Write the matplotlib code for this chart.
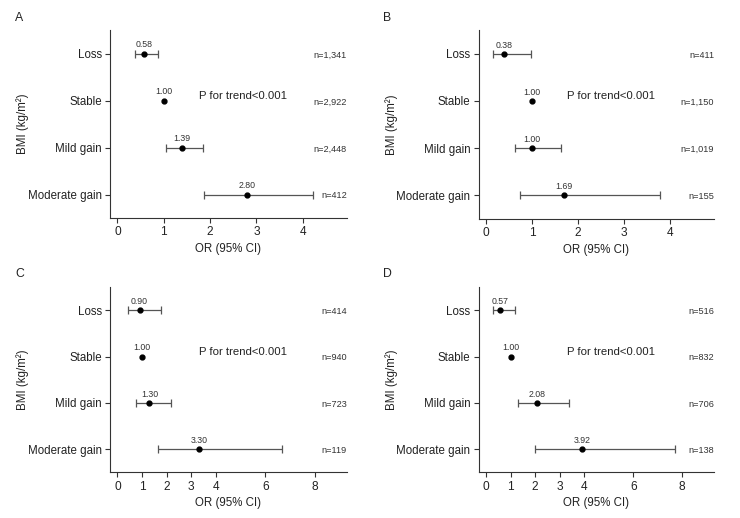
import numpy as np
import matplotlib
matplotlib.use("Agg")
import matplotlib.pyplot as plt

plt.rcParams["font.family"] = ["Liberation Sans", "DejaVu Sans"]

# categories, top to bottom
groups = ["Loss", "Stable", "Mild gain", "Moderate gain"]

# panel A
or_a = [0.58, 1.00, 1.39, 2.80]
lo_a = [0.37, 1.00, 1.06, 1.88]
hi_a = [0.88, 1.00, 1.84, 4.22]
n_a = ["n=1,341", "n=2,922", "n=2,448", "n=412"]

# panel B
or_b = [0.38, 1.00, 1.00, 1.69]
lo_b = [0.14, 1.00, 0.63, 0.74]
hi_b = [0.97, 1.00, 1.62, 3.78]
n_b = ["n=411", "n=1,150", "n=1,019", "n=155"]

# panel C
or_c = [0.90, 1.00, 1.30, 3.30]
lo_c = [0.45, 1.00, 0.76, 1.64]
hi_c = [1.77, 1.00, 2.16, 6.68]
n_c = ["n=414", "n=940", "n=723", "n=119"]

# panel D
or_d = [0.57, 1.00, 2.08, 3.92]
lo_d = [0.26, 1.00, 1.28, 1.99]
hi_d = [1.18, 1.00, 3.38, 7.72]
n_d = ["n=516", "n=832", "n=706", "n=138"]

ticks_small = [0, 1, 2, 3, 4]
ticks_big = [0, 1, 2, 3, 4, 6, 8]

panels = [
    ("A", or_a, lo_a, hi_a, n_a, ticks_small, (-0.16, 4.95), [0.1486, 0.579, 0.320, 0.363]),
    ("B", or_b, lo_b, hi_b, n_b, ticks_small, (-0.16, 4.95), [0.647, 0.577, 0.318, 0.365]),
    ("C", or_c, lo_c, hi_c, n_c, ticks_big, (-0.30, 9.30), [0.1486, 0.088, 0.320, 0.358]),
    ("D", or_d, lo_d, hi_d, n_d, ticks_big, (-0.30, 9.30), [0.647, 0.088, 0.318, 0.358]),
]

fig = plt.figure(figsize=(7.4, 5.18), dpi=100)

for letter, orv, lo, hi, nlab, xt, xl, pos in panels:
    ax = fig.add_axes(pos)
    y = np.arange(len(groups))
    orv = np.array(orv)
    lo = np.array(lo)
    hi = np.array(hi)
    has_ci = hi > lo  # reference group has no interval
    ax.errorbar(orv[has_ci], y[has_ci],
                xerr=[orv[has_ci] - lo[has_ci], hi[has_ci] - orv[has_ci]],
                fmt="none", ecolor="#555555", elinewidth=0.9,
                capsize=3.2, capthick=0.9)
    ax.plot(orv, y, "o", color="black", markersize=3.5, zorder=3)
    for yi, v in zip(y, orv):
        ax.annotate(f"{v:.2f}", (v, yi), xytext=(0, 3), textcoords="offset points",
                    ha="center", va="bottom", fontsize=6.3, color="#333333")
    for yi, t in zip(y, nlab):
        ax.text(1.0, yi + 0.03, t, transform=ax.get_yaxis_transform(),
                ha="right", va="center", fontsize=6.6, color="#333333")
    ax.text(0.375, 0.9, "P for trend<0.001", transform=ax.get_yaxis_transform(),
            ha="left", va="center", fontsize=8.2, color="#222222")

    ax.set_ylim(3.5, -0.5)
    ax.set_xlim(*xl)
    ax.set_yticks(y)
    ax.set_yticklabels(groups, fontsize=8.3, color="#222222")
    ax.set_xticks(xt)
    ax.set_xticklabels([str(v) for v in xt], fontsize=8.6, color="#222222")
    ax.tick_params(length=3.5, width=0.8, pad=2.5, color="#333333")
    for s in ["top", "right"]:
        ax.spines[s].set_visible(False)
    for s in ["left", "bottom"]:
        ax.spines[s].set_linewidth(0.8)
        ax.spines[s].set_color("#333333")
    ax.set_xlabel("OR (95% CI)", fontsize=8.3, color="#222222")
    ax.xaxis.set_label_coords(0.5, -0.13)
    ax.set_ylabel("BMI (kg/m²)", fontsize=8.3, color="#222222")
    ax.yaxis.set_label_coords(-0.342, 0.5)

    x0 = 15 / 740 if letter in "AC" else 383 / 740
    y0 = 1 - 21 / 518 if letter in "AB" else 1 - 277 / 518
    fig.text(x0, y0, letter, fontsize=8.8, color="#222222", ha="left", va="baseline")

fig.savefig("out.png", dpi=100)
